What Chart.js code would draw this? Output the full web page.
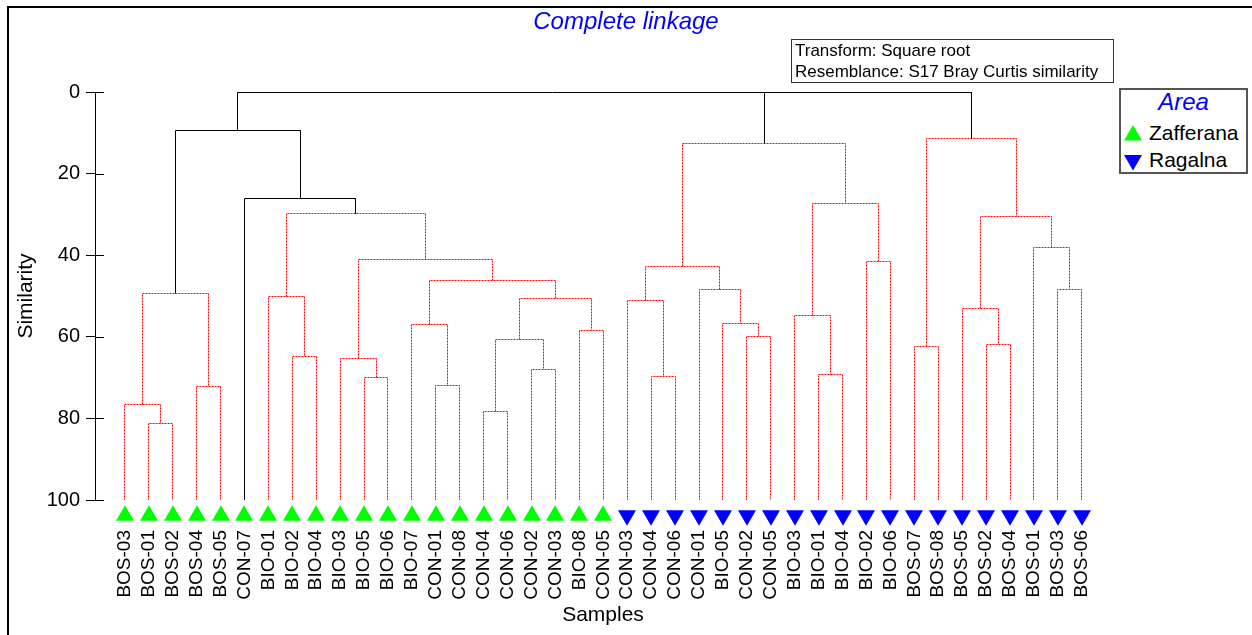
<!DOCTYPE html>
<html>
<head>
<meta charset="utf-8">
<script src="https://cdn.jsdelivr.net/npm/chart.js@4.4.1/dist/chart.umd.min.js"></script>
<style>
  html, body { margin: 0; padding: 0; background: #fff; }
  #wrap { position: relative; width: 1252px; height: 635px; overflow: hidden;
          font-family: "Liberation Sans", Arial, sans-serif; }
  #chart { position: absolute; left: 0; top: 0; }
  #frame { position: absolute; left: 7px; top: 6px; width: 1400px; height: 800px;
           border-left: 2px solid #000; border-top: 2px solid #000; }
  #note { position: absolute; left: 791px; top: 39px; width: 323px; height: 44px;
          box-sizing: border-box; border: 1px solid #333; padding: 0 0 0 3px;
          font-size: 17px; line-height: 21px; color: #000; white-space: nowrap; }
  #legend { position: absolute; left: 1119px; top: 88px; width: 129px; height: 86px;
            box-sizing: border-box; border: 2px solid #555; background: #fff; }
  #legend .ttl { position: absolute; left: 0; top: 0; width: 100%; text-align: center;
                 font-size: 24px; line-height: 24px; font-style: italic; color: #0000ff; }
  #legend .item { position: absolute; left: 28px; font-size: 21px; line-height: 21px; color: #000; }
  #legend svg { position: absolute; left: 3px; }
</style>
</head>
<body>
<div id="wrap">
  <div id="frame"></div>
  <canvas id="chart" width="1252" height="635"></canvas>
  <div id="note">Transform: Square root<br>Resemblance: S17 Bray Curtis similarity</div>
  <div id="legend">
    <div class="ttl">Area</div>
    <svg width="18" height="16" style="top:35px"><polygon points="9,0 18,15.5 0,15.5" fill="#00ff00"/></svg>
    <div class="item" style="top:32px">Zafferana</div>
    <svg width="18" height="16" style="top:65px"><polygon points="0,0 18,0 9,15.5" fill="#0000ff"/></svg>
    <div class="item" style="top:59px">Ragalna</div>
  </div>
</div>
<script>
// ---------------- DATA ----------------
const leafLabels = [
  'BOS-03','BOS-01','BOS-02','BOS-04','BOS-05','CON-07','BIO-01','BIO-02','BIO-04','BIO-03',
  'BIO-05','BIO-06','BIO-07','CON-01','CON-08','CON-04','CON-06','CON-02','CON-03','BIO-08',
  'CON-05','CON-03','CON-04','CON-06','CON-01','BIO-05','CON-02','CON-05','BIO-03','BIO-01',
  'BIO-04','BIO-02','BIO-06','BOS-07','BOS-08','BOS-05','BOS-02','BOS-04','BOS-01','BOS-03','BOS-06'
];
const leafArea = [
  'Zafferana','Zafferana','Zafferana','Zafferana','Zafferana','Zafferana','Zafferana','Zafferana','Zafferana','Zafferana',
  'Zafferana','Zafferana','Zafferana','Zafferana','Zafferana','Zafferana','Zafferana','Zafferana','Zafferana','Zafferana',
  'Zafferana','Ragalna','Ragalna','Ragalna','Ragalna','Ragalna','Ragalna','Ragalna','Ragalna','Ragalna',
  'Ragalna','Ragalna','Ragalna','Ragalna','Ragalna','Ragalna','Ragalna','Ragalna','Ragalna','Ragalna','Ragalna'
];
// Node ids: 0..40 are leaves; merge k creates node 41 + k
const mergePairs = [
  [1,2],[0,41],[3,4],[42,43],[7,8],[6,45],[10,11],[9,47],[13,14],[12,49],
  [15,16],[17,18],[51,52],[19,20],[53,54],[50,55],[48,56],[46,57],[5,58],[44,59],
  [22,23],[21,61],[26,27],[25,63],[24,64],[62,65],[29,30],[28,67],[31,32],[68,69],
  [66,70],[33,34],[36,37],[35,73],[39,40],[38,75],[74,76],[72,77],[71,78],[60,79]
];
const mergeSimilarity = [
  81.3,76.6,72.1,49.4,64.8,50.1,70.0,65.3,71.9,57.0,
  78.2,67.9,60.6,58.5,50.5,46.2,41.0,29.9,26.2,9.4,
  69.8,51.0,59.9,56.7,48.3,42.8,69.2,54.9,41.5,27.4,
  12.6,62.3,61.8,53.0,48.5,38.2,30.5,11.3,0,0
];
// SIMPROF-significant structure (solid black) vs non-significant (dotted red)
const mergeSignificant = [
  false,false,false,false,false,false,false,false,false,false,
  false,false,false,false,false,false,false,false,true,true,
  false,false,false,false,false,false,false,false,false,false,
  false,false,false,false,false,false,false,false,true,true
];
const yTickValues = [0, 20, 40, 60, 80, 100];
const areaNames = ['Zafferana', 'Ragalna'];

// ---------------- BUILD ----------------
Chart.defaults.font.family = '"Liberation Sans", Arial, sans-serif';
Chart.defaults.color = '#000';

const nodeX = leafLabels.map((_, i) => i);
const nodeY = leafLabels.map(() => 100);
mergePairs.forEach(([a, b], k) => {
  nodeX.push((nodeX[a] + nodeX[b]) / 2);
  nodeY.push(mergeSimilarity[k]);
});

const linkDatasets = mergePairs.map(([a, b], k) => {
  const h = mergeSimilarity[k];
  const sig = mergeSignificant[k];
  return {
    label: 'link' + k,
    isLink: true,
    data: [
      { x: nodeX[a], y: nodeY[a] }, { x: nodeX[a], y: h },
      { x: nodeX[b], y: h }, { x: nodeX[b], y: nodeY[b] }
    ],
    borderColor: sig ? '#000000' : '#ff0000',
    borderWidth: 1,
    borderDash: sig ? [] : [2, 1],
    pointRadius: 0,
    tension: 0,
    fill: false,
    order: sig ? 0 : 1
  };
});

// triangle markers drawn a fixed distance below the leaf tip
function makeMarker(color, up) {
  const W = 20, off = 15, h = 15.5, half = 9;
  const H = 2 * (off + h) + 2;
  const c = document.createElement('canvas');
  c.width = W; c.height = H;
  const g = c.getContext('2d');
  const cy = H / 2 + off;
  g.fillStyle = color;
  g.beginPath();
  if (up) {
    g.moveTo(W / 2, cy - 2 * h / 3); g.lineTo(W / 2 + half, cy + h / 3); g.lineTo(W / 2 - half, cy + h / 3);
  } else {
    g.moveTo(W / 2, cy + 2 * h / 3); g.lineTo(W / 2 + half, cy - h / 3); g.lineTo(W / 2 - half, cy - h / 3);
  }
  g.closePath(); g.fill();
  return c;
}
const areaStyle = {
  Zafferana: makeMarker('#00ff00', true),
  Ragalna: makeMarker('#0000ff', false)
};
const markerDatasets = areaNames.map(area => ({
  label: area,
  data: leafLabels.map((_, i) => i).filter(i => leafArea[i] === area).map(i => ({ x: i, y: 100 })),
  showLine: false,
  pointStyle: areaStyle[area],
  pointRadius: 8,
  pointHoverRadius: 8,
  clip: false,
  order: -1
}));

// snap scale-computed pixel positions so 1px lines render crisp
const pixelSnap = {
  id: 'pixelSnap',
  beforeDatasetsDraw(chart) {
    chart.data.datasets.forEach((ds, i) => {
      const meta = chart.getDatasetMeta(i);
      meta.data.forEach(p => {
        if (ds.isLink) {
          p.x = Math.floor(p.x) + 0.5;
          p.y = Math.floor(p.y) + 0.5;
        } else {
          p.x = Math.round(p.x);
          p.y = Math.floor(p.y) + 0.5;
        }
      });
    });
  }
};

const tickStubs = {
  id: 'tickStubs',
  afterDraw(chart) {
    const ys = chart.scales.y, ctx = chart.ctx;
    ctx.save();
    ctx.strokeStyle = '#000'; ctx.lineWidth = 1;
    ys.ticks.forEach(t => {
      const py = Math.round(ys.getPixelForValue(t.value)) + 0.5;
      ctx.beginPath(); ctx.moveTo(ys.right, py); ctx.lineTo(ys.right + 9, py); ctx.stroke();
    });
    ctx.restore();
  }
};

new Chart(document.getElementById('chart'), {
  type: 'line',
  data: { datasets: [...linkDatasets, ...markerDatasets] },
  options: {
    responsive: false,
    animation: false,
    events: [],
    layout: { padding: 0 },
    plugins: {
      legend: { display: false },
      tooltip: { enabled: false },
      title: {
        display: true,
        text: 'Complete linkage',
        color: '#0000ff',
        font: { size: 24, style: 'italic', weight: 'normal' },
        padding: { top: 8, bottom: 55.2 }
      }
    },
    scales: {
      x: {
        type: 'linear',
        min: -1.246,
        max: 41.22,
        afterBuildTicks: s => { s.ticks = leafLabels.map((_, i) => ({ value: i })); },
        afterFit: s => { s.height = 135; },
        grid: { display: false, drawTicks: false },
        border: { display: false },
        ticks: {
          autoSkip: false, minRotation: 90, maxRotation: 90, padding: 30,
          font: { size: 19 },
          callback: v => leafLabels[v]
        },
        title: { display: true, text: 'Samples', font: { size: 21 }, padding: { top: 0, bottom: 7 } }
      },
      y: {
        type: 'linear',
        reverse: true,
        min: 0,
        max: 100,
        afterBuildTicks: s => { s.ticks = yTickValues.map(v => ({ value: v })); },
        afterFit: s => { s.width = 95; },
        grid: { drawOnChartArea: false, drawTicks: true, tickLength: 9, color: '#000' },
        border: { display: true, color: '#000', width: 1 },
        ticks: { padding: 6, font: { size: 20 } },
        title: { display: true, text: 'Similarity', font: { size: 21 }, padding: { top: 13.4, bottom: 0 } }
      },
      yRight: {
        type: 'linear',
        position: 'right',
        display: true,
        afterFit: s => { s.width = 141; },
        grid: { display: false, drawTicks: false },
        border: { display: false },
        ticks: { display: false }
      }
    }
  },
  plugins: [pixelSnap, tickStubs]
});
</script>
</body>
</html>
